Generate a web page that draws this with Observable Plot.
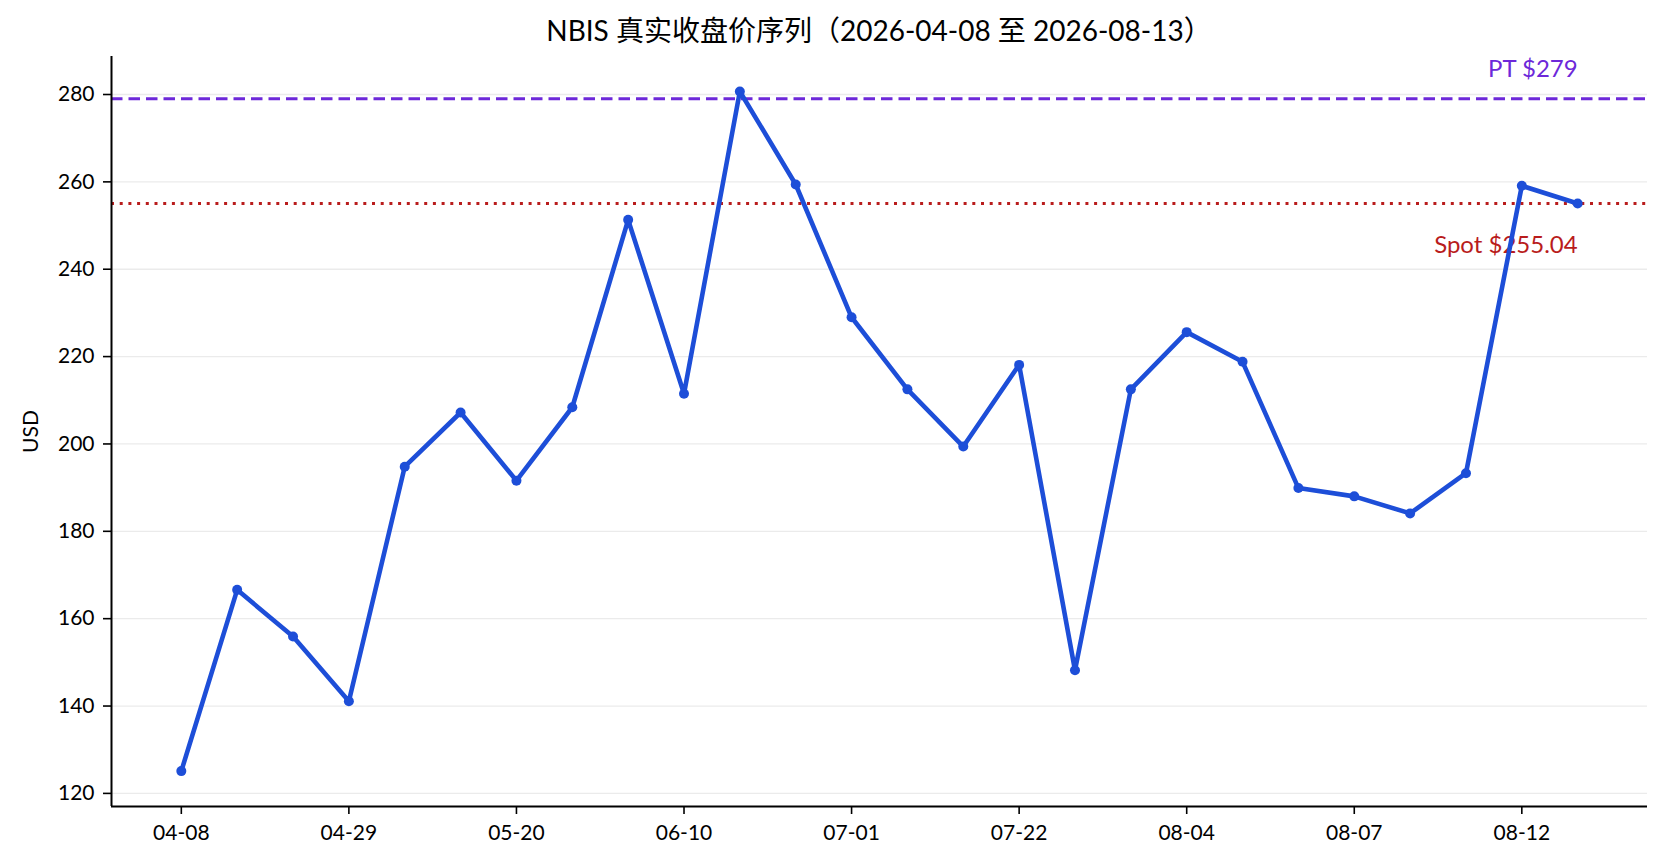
<!DOCTYPE html>
<html>
<head>
<meta charset="utf-8">
<script src="https://cdn.jsdelivr.net/npm/d3@7"></script>
<script src="https://cdn.jsdelivr.net/npm/@observablehq/plot@0.6"></script>
<style>
  html, body { margin: 0; padding: 0; background: #fff; overflow: hidden; }
  #wrap { position: relative; width: 1663px; height: 865px; }
  #wrap svg { display: block; }
  #title { position: absolute; top: 16px; left: 111px; width: 1536px; text-align: center; font-size: 28px; line-height: 28px; color: #000; font-family: Lato, "Noto Sans CJK SC", sans-serif; }
</style>
</head>
<body>
<div id="wrap"><div id="title">NBIS 真实收盘价序列（2026-04-08 至 2026-08-13）</div></div>
<script>
const dates = ["04-08","04-15","04-22","04-29","05-06","05-13","05-20","05-27","06-03","06-10","06-17","06-24","07-01","07-08","07-15","07-22","07-29","07-31","08-04","08-05","08-06","08-07","08-10","08-11","08-12","08-13"];
const closes = [125.1,166.6,155.9,141.1,194.8,207.2,191.6,208.4,251.3,211.5,280.7,259.4,229.0,212.5,199.4,218.1,148.2,212.5,225.6,218.8,189.9,188.0,184.1,193.3,259.1,255.04];
const priceTarget = 279;
const spot = 255.04;
const yTicks = [120,140,160,180,200,220,240,260,280];
const xTickIdx = [0,3,6,9,12,15,18,21,24];

const data = closes.map((c, i) => ({i, date: dates[i], close: c}));
const xDom = [-1.25, dates.length - 1 + 1.25];
const yDom = [117.0, 288.7];

const chart = Plot.plot({
  width: 1663,
  height: 865,
  marginTop: 56,
  marginBottom: 59,
  marginLeft: 111,
  marginRight: 16,
  style: {fontFamily: 'Lato, "Noto Sans CJK SC", sans-serif', fontSize: "21px", color: "#000", background: "#fff", overflow: "visible"},
  x: {domain: xDom, axis: null},
  y: {domain: yDom, axis: null},
  marks: [
    Plot.gridY(yTicks, {stroke: "#ebebeb", strokeOpacity: 1, strokeWidth: 1.3}),
    Plot.axisY(yTicks, {tickSize: 8, tickPadding: 9, strokeWidth: 1.6, label: "USD", labelAnchor: "center", labelArrow: "none", labelOffset: 88, fontSize: 21}),
    Plot.axisX(xTickIdx, {tickSize: 8, tickPadding: 11, strokeWidth: 1.6, tickFormat: d => dates[d], label: null, fontSize: 21}),
    Plot.ruleY([priceTarget], {stroke: "#6d28d9", strokeWidth: 3, strokeDasharray: "11.5,6"}),
    Plot.ruleY([spot], {stroke: "#b91c1c", strokeWidth: 3, strokeDasharray: "3,5.7"}),
    Plot.text([{i: dates.length - 1, v: priceTarget, t: "PT $" + priceTarget}], {x: "i", y: "v", text: "t", textAnchor: "end", dy: -30, fill: "#6d28d9", fontSize: 24}),
    Plot.text([{i: dates.length - 1, v: spot, t: "Spot $" + spot.toFixed(2)}], {x: "i", y: "v", text: "t", textAnchor: "end", dy: 42, fill: "#b91c1c", fontSize: 24}),
    Plot.line(data, {x: "i", y: "close", stroke: "#1d4ed8", strokeWidth: 4.6}),
    Plot.dot(data, {x: "i", y: "close", fill: "#1d4ed8", r: 5}),
    Plot.ruleX([xDom[0]], {stroke: "#000", strokeWidth: 2}),
    Plot.ruleY([yDom[0]], {stroke: "#000", strokeWidth: 2})
  ]
});
document.getElementById("wrap").appendChild(chart);
</script>
</body>
</html>
